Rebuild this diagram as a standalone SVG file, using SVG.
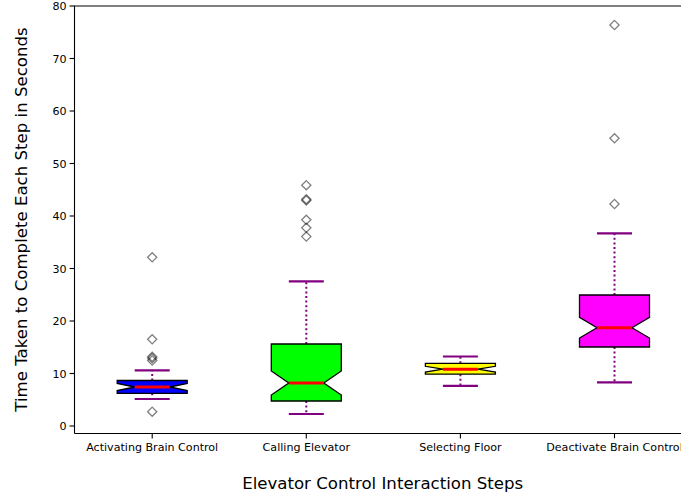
<svg xmlns="http://www.w3.org/2000/svg" xmlns:xlink="http://www.w3.org/1999/xlink" width="681" height="494" viewBox="0 0 681 494">
  <style>
    text { font-family: "DejaVu Sans", "Liberation Sans", sans-serif; fill: #000; }
    .tick { font-size: 11.1px; }
    .label { font-size: 16.6px; }
    .spine { stroke: #000; stroke-width: 1.1; fill: none; }
    .tk { stroke: #000; stroke-width: 1.1; }
    .box { stroke: #000; stroke-width: 1.3; stroke-linejoin: miter; }
    .whisker { stroke: #800080; stroke-width: 2; stroke-dasharray: 2 2.6; fill: none; }
    .cap { stroke: #800080; stroke-width: 2.2; }
    .median { stroke: #ff0000; stroke-width: 3; }
    .flier { fill: none; stroke: #000; stroke-opacity: 0.5; stroke-width: 1.3; }
  </style>
  <defs>
    <path id="dia" d="M0,-4.6 L4.6,0 L0,4.6 L-4.6,0 Z"/>
  </defs>

  <rect width="681" height="494" fill="#fff"/>

  <!-- axes frame -->
  <g id="axes">
    <path class="spine" d="M74.5,433.5 V6 H681"/>
    <path class="spine" d="M74.5,433.5 H681"/>
    <!-- y ticks -->
    <g class="tk">
      <line x1="69.6" y1="426" x2="74.5" y2="426"/>
      <line x1="69.6" y1="373.5" x2="74.5" y2="373.5"/>
      <line x1="69.6" y1="321" x2="74.5" y2="321"/>
      <line x1="69.6" y1="268.5" x2="74.5" y2="268.5"/>
      <line x1="69.6" y1="216" x2="74.5" y2="216"/>
      <line x1="69.6" y1="163.5" x2="74.5" y2="163.5"/>
      <line x1="69.6" y1="111" x2="74.5" y2="111"/>
      <line x1="69.6" y1="58.5" x2="74.5" y2="58.5"/>
      <line x1="69.6" y1="6" x2="74.5" y2="6"/>
      <!-- x ticks -->
      <line x1="152.2" y1="433.5" x2="152.2" y2="438.4"/>
      <line x1="306.3" y1="433.5" x2="306.3" y2="438.4"/>
      <line x1="460.4" y1="433.5" x2="460.4" y2="438.4"/>
      <line x1="614.5" y1="433.5" x2="614.5" y2="438.4"/>
    </g>
    <g class="tick" text-anchor="end">
      <text x="66.5" y="430">0</text>
      <text x="66.5" y="377.5">10</text>
      <text x="66.5" y="325">20</text>
      <text x="66.5" y="272.5">30</text>
      <text x="66.5" y="220">40</text>
      <text x="66.5" y="167.5">50</text>
      <text x="66.5" y="115">60</text>
      <text x="66.5" y="62.5">70</text>
      <text x="66.5" y="10">80</text>
    </g>
    <g class="tick" text-anchor="middle">
      <text x="152.2" y="450.5">Activating Brain Control</text>
      <text x="306.3" y="450.5">Calling Elevator</text>
      <text x="460.4" y="450.5">Selecting Floor</text>
      <text x="614.5" y="450.5">Deactivate Brain Control</text>
    </g>
    <text class="label" x="382.7" y="489" text-anchor="middle">Elevator Control Interaction Steps</text>
    <text class="label" transform="translate(26.5,219.5) rotate(-90)" text-anchor="middle">Time Taken to Complete Each Step in Seconds</text>
  </g>

  <!-- whiskers -->
  <g id="whiskers">
    <line class="whisker" x1="152.2" y1="380.5" x2="152.2" y2="370.3"/>
    <line class="whisker" x1="152.2" y1="393.3" x2="152.2" y2="399"/>
    <line class="whisker" x1="306.3" y1="344" x2="306.3" y2="281.3"/>
    <line class="whisker" x1="306.3" y1="401" x2="306.3" y2="414"/>
    <line class="whisker" x1="460.4" y1="363.3" x2="460.4" y2="356.5"/>
    <line class="whisker" x1="460.4" y1="374.2" x2="460.4" y2="385.8"/>
    <line class="whisker" x1="614.5" y1="295" x2="614.5" y2="233.3"/>
    <line class="whisker" x1="614.5" y1="347" x2="614.5" y2="382.3"/>
  </g>

  <!-- Activating Brain Control -->
  <g id="box-activating">
    <path class="box" fill="#0000ff" d="M117.2,393.3 L187.2,393.3 L187.2,390.5 L169.7,387 L187.2,383.4 L187.2,380.5 L117.2,380.5 L117.2,383.4 L134.7,387 L117.2,390.5 Z"/>
    <line class="median" x1="134.7" y1="387" x2="169.7" y2="387"/>
    <line class="cap" x1="134.7" y1="370.3" x2="169.7" y2="370.3"/>
    <line class="cap" x1="134.7" y1="399" x2="169.7" y2="399"/>
    <use xlink:href="#dia" class="flier" x="152.2" y="257.3"/>
    <use xlink:href="#dia" class="flier" x="152.2" y="339.3"/>
    <use xlink:href="#dia" class="flier" x="152.2" y="356.8"/>
    <use xlink:href="#dia" class="flier" x="152.2" y="358.3"/>
    <use xlink:href="#dia" class="flier" x="152.2" y="360.5"/>
    <use xlink:href="#dia" class="flier" x="152.2" y="411.7"/>
  </g>

  <!-- Calling Elevator -->
  <g id="box-calling">
    <path class="box" fill="#00ff00" d="M271.3,401 L341.3,401 L341.3,395 L323.8,383 L341.3,371 L341.3,344 L271.3,344 L271.3,371 L288.8,383 L271.3,395 Z"/>
    <line class="median" x1="288.8" y1="383" x2="323.8" y2="383"/>
    <line class="cap" x1="288.8" y1="281.3" x2="323.8" y2="281.3"/>
    <line class="cap" x1="288.8" y1="414" x2="323.8" y2="414"/>
    <use xlink:href="#dia" class="flier" x="306.3" y="185.2"/>
    <use xlink:href="#dia" class="flier" x="306.3" y="199.2"/>
    <use xlink:href="#dia" class="flier" x="306.3" y="200.4"/>
    <use xlink:href="#dia" class="flier" x="306.3" y="219.8"/>
    <use xlink:href="#dia" class="flier" x="306.3" y="227.8"/>
    <use xlink:href="#dia" class="flier" x="306.3" y="236.6"/>
  </g>

  <!-- Selecting Floor -->
  <g id="box-selecting">
    <path class="box" fill="#ffff00" d="M425.4,374.2 L495.4,374.2 L495.4,372 L477.9,369.2 L495.4,366.3 L495.4,363.3 L425.4,363.3 L425.4,366.3 L442.9,369.2 L425.4,372 Z"/>
    <line class="median" x1="442.9" y1="369.2" x2="477.9" y2="369.2"/>
    <line class="cap" x1="442.9" y1="356.5" x2="477.9" y2="356.5"/>
    <line class="cap" x1="442.9" y1="385.8" x2="477.9" y2="385.8"/>
  </g>

  <!-- Deactivate Brain Control -->
  <g id="box-deactivate">
    <path class="box" fill="#ff00ff" d="M579.5,347 L649.5,347 L649.5,338 L632,327.7 L649.5,317.3 L649.5,295 L579.5,295 L579.5,317.3 L597,327.7 L579.5,338 Z"/>
    <line class="median" x1="597" y1="327.7" x2="632" y2="327.7"/>
    <line class="cap" x1="597" y1="233.3" x2="632" y2="233.3"/>
    <line class="cap" x1="597" y1="382.3" x2="632" y2="382.3"/>
    <use xlink:href="#dia" class="flier" x="614.5" y="25"/>
    <use xlink:href="#dia" class="flier" x="614.5" y="138.3"/>
    <use xlink:href="#dia" class="flier" x="614.5" y="204"/>
  </g>
</svg>
